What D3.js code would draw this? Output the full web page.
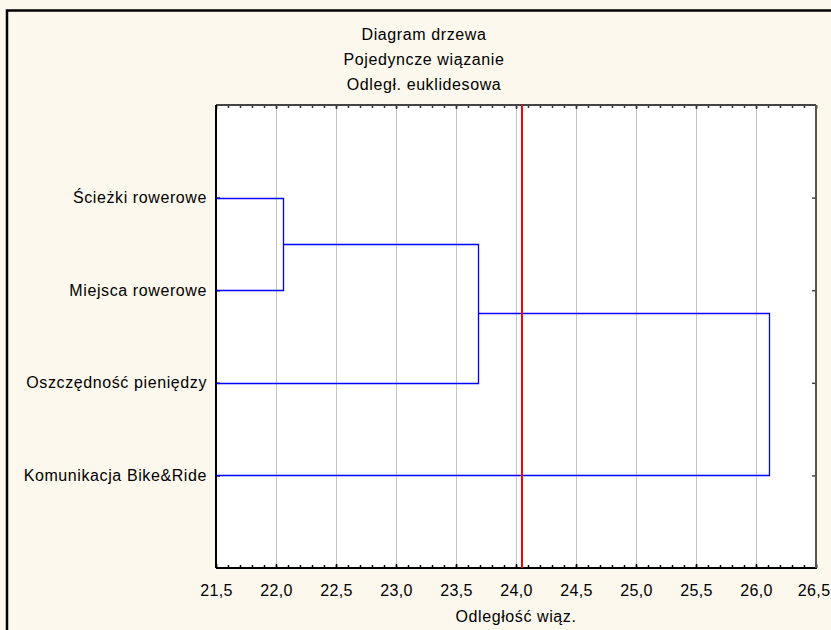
<!DOCTYPE html>
<html>
<head>
<meta charset="utf-8">
<script src="https://cdn.jsdelivr.net/npm/d3@7"></script>
<style>
  html, body { margin: 0; padding: 0; background: #fdf8ed; }
  svg { display: block; }
  text { font-family: Arial, "Liberation Sans", sans-serif; fill: #000; }
</style>
</head>
<body>
<svg id="chart"></svg>
<script>
// dane drzewa
const leafLabels = ["Ścieżki rowerowe", "Miejsca rowerowe", "Oszczędność pieniędzy", "Komunikacja Bike&Ride"];
// [węzeł A, węzeł B, odległość wiązania] - nowe skupienia dostają numery 4, 5, 6
const merges = [
    [0, 1, 22.06],
    [4, 2, 23.68],
    [5, 3, 26.11]
];
const cutLevel = 24.05;
const xTickValues = [21.5, 22.0, 22.5, 23.0, 23.5, 24.0, 24.5, 25.0, 25.5, 26.0, 26.5];
const titleLines = ["Diagram drzewa", "Pojedyncze wiązanie", "Odległ. euklidesowa"];
const xTitle = "Odległość wiąz.";

const width = 831;
const height = 630;
const plot = { left: 216, right: 816, top: 105, bottom: 568 };

const svg = d3.select("#chart")
    .attr("width", width)
    .attr("height", height);

// ramka zewnętrzna
svg.append("rect")
    .attr("x", 7).attr("y", 10.5)
    .attr("width", 1000).attr("height", 1000)
    .attr("fill", "#fdf8ed")
    .attr("stroke", "#000")
    .attr("stroke-width", 2.5);

const x = d3.scaleLinear().domain([21.5, 26.5]).range([plot.left, plot.right]);
const y = d3.scaleLinear().domain([0, leafLabels.length + 1]).range([plot.top, plot.bottom]);

// obszar wykresu
svg.append("rect")
    .attr("x", plot.left).attr("y", plot.top)
    .attr("width", plot.right - plot.left).attr("height", plot.bottom - plot.top)
    .attr("fill", "#fff");

// siatka
svg.selectAll(".grid")
    .data(xTickValues.slice(1, -1))
    .enter()
    .append("line")
    .attr("x1", d => Math.round(x(d)) + 0.5).attr("x2", d => Math.round(x(d)) + 0.5)
    .attr("y1", plot.top).attr("y2", plot.bottom)
    .attr("stroke", "#c4c4c4")
    .attr("stroke-width", 1);

const fmt = d => d.toFixed(1).replace(".", ",");
const minor = d3.range(21.5, 26.5001, 0.1);

// oś dolna (znaczniki do środka)
const bottomAxis = svg.append("g")
    .attr("transform", `translate(0,${plot.bottom})`)
    .call(d3.axisBottom(x).tickValues(minor).tickSize(-3).tickFormat(""));
bottomAxis.select(".domain").remove();
bottomAxis.selectAll("line").attr("stroke", "#000").attr("stroke-width", 1.5);

const bottomMajor = svg.append("g")
    .attr("transform", `translate(0,${plot.bottom})`)
    .call(d3.axisBottom(x).tickValues(xTickValues).tickSize(-4).tickPadding(17).tickFormat(fmt));
bottomMajor.select(".domain").remove();
bottomMajor.selectAll("line").attr("stroke", "#000").attr("stroke-width", 1.5);
bottomMajor.selectAll("text")
    .attr("font-size", "16px")
    .attr("letter-spacing", "0.4px")
    .attr("font-family", "Arial, 'Liberation Sans', sans-serif");
// ostatnia etykieta dosunięta do krawędzi
bottomMajor.selectAll("text")
    .filter(d => d === xTickValues[xTickValues.length - 1])
    .attr("text-anchor", "end")
    .attr("x", 14);

// oś górna
const topAxis = svg.append("g")
    .attr("transform", `translate(0,${plot.top})`)
    .call(d3.axisTop(x).tickValues(minor).tickSize(-3).tickFormat(""));
topAxis.select(".domain").remove();
topAxis.selectAll("line").attr("stroke", "#333").attr("stroke-width", 1.5);

const topMajor = svg.append("g")
    .attr("transform", `translate(0,${plot.top})`)
    .call(d3.axisTop(x).tickValues(xTickValues).tickSize(-4).tickFormat(""));
topMajor.select(".domain").remove();
topMajor.selectAll("line").attr("stroke", "#333").attr("stroke-width", 1.5);

// oś lewa z etykietami liści
const leftAxis = svg.append("g")
    .attr("transform", `translate(${plot.left},0)`)
    .call(d3.axisLeft(y)
        .tickValues(leafLabels.map((d, i) => i + 1))
        .tickSize(-4)
        .tickPadding(9)
        .tickFormat(i => leafLabels[i - 1]));
leftAxis.select(".domain").remove();
leftAxis.selectAll("line").attr("stroke", "#000").attr("stroke-width", 1.5);
leftAxis.selectAll("text")
    .attr("font-size", "16px")
    .attr("letter-spacing", "0.6px")
    .attr("font-family", "Arial, 'Liberation Sans', sans-serif");

// oś prawa
const rightAxis = svg.append("g")
    .attr("transform", `translate(${plot.right},0)`)
    .call(d3.axisRight(y)
        .tickValues(leafLabels.map((d, i) => i + 1))
        .tickSize(-4)
        .tickFormat(""));
rightAxis.select(".domain").remove();
rightAxis.selectAll("line").attr("stroke", "#444").attr("stroke-width", 1.5);

// linie ramki wykresu
svg.append("line").attr("x1", plot.left).attr("x2", plot.right)
    .attr("y1", plot.top).attr("y2", plot.top).attr("stroke", "#444").attr("stroke-width", 2);
svg.append("line").attr("x1", plot.left).attr("x2", plot.right + 1)
    .attr("y1", plot.bottom).attr("y2", plot.bottom).attr("stroke", "#000").attr("stroke-width", 2);
svg.append("line").attr("x1", plot.left).attr("x2", plot.left)
    .attr("y1", plot.top).attr("y2", plot.bottom).attr("stroke", "#000").attr("stroke-width", 2);
svg.append("line").attr("x1", plot.right).attr("x2", plot.right)
    .attr("y1", plot.top).attr("y2", plot.bottom).attr("stroke", "#555").attr("stroke-width", 2);

// węzły: liście na poziomie 21,5
const nodes = leafLabels.map((d, i) => ({ h: x.domain()[0], pos: i + 1 }));
const links = [];
merges.forEach(([a, b, h]) => {
    const na = nodes[a], nb = nodes[b];
    links.push({ a: na, b: nb, h: h });
    nodes.push({ h: h, pos: (na.pos + nb.pos) / 2 });
});

const px = v => Math.round(x(v)) + 0.5;
const py = v => Math.round(y(v)) + 0.5;

svg.selectAll(".link")
    .data(links)
    .enter()
    .append("path")
    .attr("class", "link")
    .attr("fill", "none")
    .attr("stroke", "#0000ff")
    .attr("stroke-width", 1.3)
    .attr("d", d => `M${px(d.a.h)},${py(d.a.pos)}H${px(d.h)}V${py(d.b.pos)}H${px(d.b.h)}`);

// linia odcięcia
svg.append("line")
    .attr("x1", x(cutLevel)).attr("x2", x(cutLevel))
    .attr("y1", plot.top).attr("y2", plot.bottom)
    .attr("stroke", "#ff0000")
    .attr("stroke-width", 2);

// tytuł
svg.selectAll(".title")
    .data(titleLines)
    .enter()
    .append("text")
    .attr("x", 424)
    .attr("y", (d, i) => 40 + i * 25)
    .attr("text-anchor", "middle")
    .attr("font-size", "16px")
    .attr("letter-spacing", "0.6px")
    .text(d => d);

svg.append("text")
    .attr("x", (plot.left + plot.right) / 2)
    .attr("y", 622)
    .attr("text-anchor", "middle")
    .attr("font-size", "16px")
    .attr("letter-spacing", "0.6px")
    .text(xTitle);
</script>
</body>
</html>
